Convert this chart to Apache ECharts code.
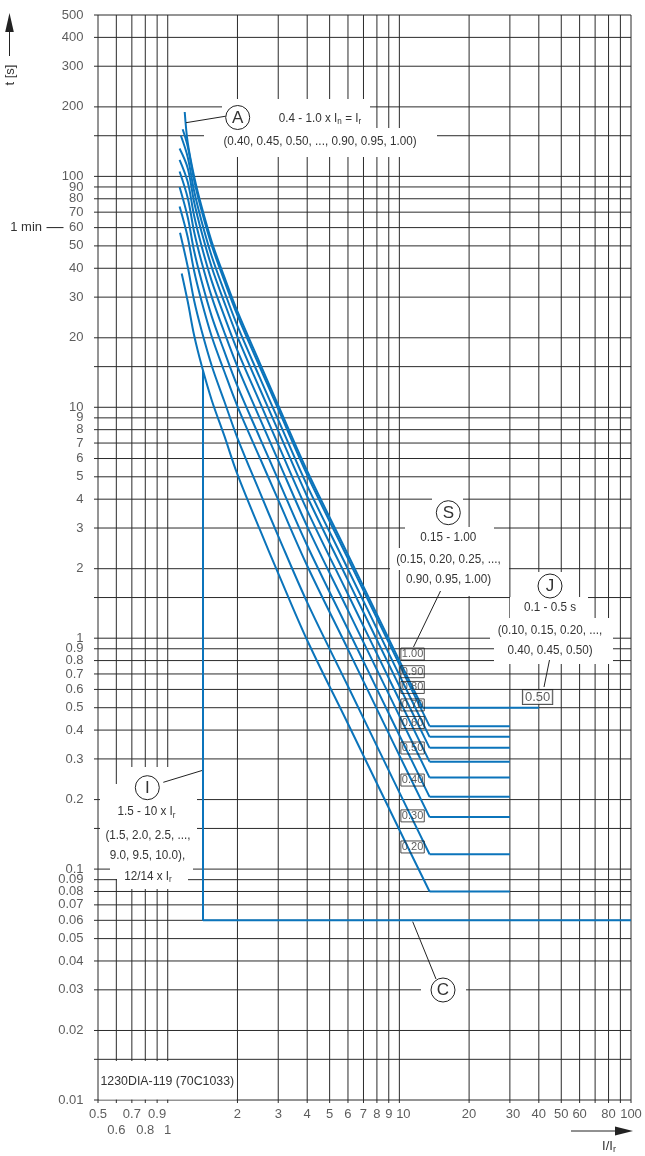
<!DOCTYPE html>
<html>
<head>
<meta charset="utf-8">
<script src="https://cdn.jsdelivr.net/npm/echarts@6/dist/echarts.min.js"></script>
<style>
html,body{margin:0;padding:0;background:#fff;}
#c{width:645px;height:1156px;}
</style>
</head>
<body>
<div id="c"></div>
<script>
// ---------------- data ----------------
const xGridVals = [0.5,0.6,0.7,0.8,0.9,1,2,3,4,5,6,7,8,9,10,20,30,40,50,60,70,80,90,100];
const yGridVals = [0.01,0.015,0.02,0.03,0.04,0.05,0.06,0.07,0.08,0.09,0.1,0.15,0.2,0.3,0.4,0.5,0.6,0.7,0.8,0.9,
                   1,1.5,2,3,4,5,6,7,8,9,10,15,20,30,40,50,60,70,80,90,100,150,200,300,400,500];
const xTickVals  = [0.5,0.7,0.9,2,3,4,5,6,7,8,9,10,20,30,40,50,60,80,100];
const xTickText  = ['0.5','0.7','0.9','2','3','4','5','6','7','8','9','10','20','30','40','50','60','80','100'];
const xTickVals2 = [0.6,0.8,1];
const xTickText2 = ['0.6','0.8','1'];
const yTickVals  = [500,400,300,200,100,90,80,70,60,50,40,30,20,10,9,8,7,6,5,4,3,2,1,
                    0.9,0.8,0.7,0.6,0.5,0.4,0.3,0.2,0.1,0.09,0.08,0.07,0.06,0.05,0.04,0.03,0.02,0.01];
const yTickText  = yTickVals.map(String);

// long-time / short-time curves (I/Ir , t[s])
const curveX  = [1.22, 1.3, 1.4, 1.55, 1.75, 2, 2.5, 3, 4, 6, 10];
const tCurve0 = [140, 100, 74, 52, 37, 26, 15.5, 10.2, 5.3, 2.3, 0.80];
const tCurve1 = [134.8, 96.3, 71.2, 50.1, 35.6, 25.0, 14.9, 9.82, 5.10, 2.21, 0.77];
const tCurve2 = [121.1, 86.5, 64.0, 45.0, 32.0, 22.5, 13.4, 8.82, 4.58, 1.99, 0.692];
const tCurve3 = [108.5, 77.5, 57.4, 40.3, 28.7, 20.2, 12.0, 7.91, 4.11, 1.78, 0.62];
const tCurve4 = [94.5, 67.5, 50.0, 35.1, 25.0, 17.6, 10.5, 6.89, 3.58, 1.55, 0.54];
const tCurve5 = [80.6, 57.6, 42.6, 30.0, 21.3, 15.0, 8.93, 5.88, 3.05, 1.32, 0.461];
const tCurve6 = [66.5, 47.5, 35.2, 24.7, 17.6, 12.35, 7.36, 4.85, 2.52, 1.09, 0.38];
const tCurve7 = [54.5, 38.9, 28.8, 20.2, 14.4, 10.1, 6.03, 3.97, 2.06, 0.895, 0.311];
const tCurve8 = [40.6, 29.0, 21.5, 15.1, 10.7, 7.36, 4.28, 2.77, 1.43, 0.619, 0.215];
const tCurve9 = [28.7, 20.5, 15.2, 10.7, 7.59, 5.12, 2.95, 1.91, 0.98, 0.426, 0.148];
const curveStartX = [1.184, 1.16, 1.14, 1.125, 1.125, 1.125, 1.125, 1.125, 1.13, 1.149];
const curveStartT = [190, 160, 150, 132, 118, 105, 90, 74, 57, 38];
const flatT      = [0.5, 0.416, 0.374, 0.335, 0.292, 0.249, 0.2055, 0.168, 0.116, 0.080];
const flatStartX = [12.6, 13.5, 13.5, 13.5, 13.5, 13.5, 13.5, 13.5, 13.5, 13.5];
const flatEndX   = [40, 30, 30, 30, 30, 30, 30, 30, 30, 30];

// instantaneous release (I) : vertical + 0.06 s line
const instX = [1.42, 1.42, 100];
const instT = [14.5, 0.06, 0.06];

// S setting labels at I/Ir = 10
const sLabelText = ['1.00','0.90','0.80','0.70','0.60','0.50','0.40','0.30','0.20'];
const sLabelT    = [0.854, 0.716, 0.612, 0.514, 0.4315, 0.3345, 0.243, 0.170, 0.1247];
const jLabelText = ['0.50'];
const jLabelX    = [39.5];
const jLabelT    = [0.556];

// ---------------- chart ----------------
const BLUE = '#0b74bb';
const GRIDC = '#2b2b2b';
const TXT = '#333';
const FONT = '"Liberation Sans", Arial, sans-serif';

const chart = echarts.init(document.getElementById('c'), null, {renderer:'canvas'});
const series = [];

series.push({
  type:'custom', z:1, silent:true, clip:false, animation:false,
  data: yGridVals.map(v => [0.5, v]),
  renderItem: (p, api) => {
    const y = api.value(1);
    const a = api.coord([0.5, y]), b = api.coord([100, y]);
    return {type:'line', shape:{x1:a[0]-4, y1:a[1], x2:b[0], y2:b[1]}, style:{stroke:GRIDC, lineWidth:1}};
  }
});
series.push({
  type:'custom', z:1, silent:true, clip:false, animation:false,
  data: xGridVals.map(v => [v, 0.01]),
  renderItem: (p, api) => {
    const x = api.value(0);
    const a = api.coord([x, 500]), b = api.coord([x, 0.01]);
    return {type:'line', shape:{x1:a[0], y1:a[1], x2:b[0], y2:b[1]+3}, style:{stroke:GRIDC, lineWidth:1}};
  }
});

const tCurves = [tCurve0,tCurve1,tCurve2,tCurve3,tCurve4,tCurve5,tCurve6,tCurve7,tCurve8,tCurve9];
tCurves.forEach((tc, i) => {
  const pts = [[curveStartX[i], curveStartT[i]]]
    .concat(curveX.map((x, k) => [x, tc[k]]))
    .concat([[flatStartX[i], flatT[i]]]);
  series.push({type:'line', data:pts, symbol:'none', smooth:0.35,
    lineStyle:{color:BLUE, width:2}, z:3, silent:true, animation:false});
  series.push({type:'line', data:[[flatStartX[i], flatT[i]], [flatEndX[i], flatT[i]]], symbol:'none',
    lineStyle:{color:BLUE, width:2}, z:3, silent:true, animation:false});
});
series.push({type:'line', data: instX.map((x,i)=>[x, instT[i]]), symbol:'none',
  lineStyle:{color:BLUE, width:2}, z:3, silent:true, animation:false});

const nudge = {'10':4, '30':3};
const hidden = {symbolSize:1, itemStyle:{color:'rgba(0,0,0,0)'}, silent:true, clip:false, animation:false, z:5};
series.push(Object.assign({type:'scatter',
  data: xTickVals.map((v,i)=>({value:[v,0.01], label:{formatter:xTickText[i], offset:[nudge[xTickText[i]]||0, 0]}})),
  label:{show:true, position:'bottom', distance:7, fontFamily:FONT, fontSize:13, color:TXT}}, hidden));
series.push(Object.assign({type:'scatter',
  data: xTickVals2.map((v,i)=>({value:[v,0.01], label:{formatter:xTickText2[i]}})),
  label:{show:true, position:'bottom', distance:23, fontFamily:FONT, fontSize:13, color:TXT}}, hidden));
series.push(Object.assign({type:'scatter',
  data: yTickVals.map((v,i)=>({value:[0.5,v], label:{formatter:yTickText[i]}})),
  label:{show:true, position:'left', distance:14, fontFamily:FONT, fontSize:13, color:TXT}}, hidden));
series.push(Object.assign({type:'scatter',
  data: sLabelT.map((t,i)=>({value:[10,t], label:{formatter:sLabelText[i]}})),
  label:{show:true, position:'right', distance:1, fontFamily:FONT, fontSize:11, color:TXT,
         borderColor:'#222', borderWidth:1, padding:[1,1,0,1], lineHeight:11}}, hidden, {z:6}));
series.push(Object.assign({type:'scatter',
  data: jLabelT.map((t,i)=>({value:[jLabelX[i],t], label:{formatter:jLabelText[i]}})),
  label:{show:true, position:'inside', fontFamily:FONT, fontSize:13, color:TXT, backgroundColor:'#fff',
         borderColor:'#222', borderWidth:1, padding:[1,2,0,2], lineHeight:13}}, hidden, {z:6}));

// ---------------- annotations ----------------
const G = [];
function rect(x,y,w,h){ G.push({type:'rect', z:100, silent:true, shape:{x,y,width:w,height:h}, style:{fill:'#fff'}}); }
function line(x1,y1,x2,y2){ G.push({type:'line', z:104, silent:true, shape:{x1,y1,x2,y2}, style:{stroke:'#222', lineWidth:1}}); }
function circ(cx,cy,letter){
  G.push({type:'circle', z:105, silent:true, shape:{cx,cy,r:12}, style:{fill:'#fff', stroke:'#222', lineWidth:1}});
  G.push({type:'text', z:106, silent:true, x:cx, y:cy+0.5, style:{text:letter, fontSize:17, fontFamily:FONT, fill:TXT, align:'center', verticalAlign:'middle'}});
}
const RICH = {
  a:{fontSize:13, fontFamily:FONT, fill:TXT, lineHeight:16, verticalAlign:'middle'},
  s:{fontSize:9, fontFamily:FONT, fill:TXT, lineHeight:7, verticalAlign:'bottom'}
};
function txt(x,y,text,o){
  o = o || {};
  G.push({type:'text', z:106, silent:true, x, y, scaleX:(o.sx===undefined?0.9:o.sx),
    style:{text, fontSize:o.size||13, fontFamily:FONT, fill:TXT, align:o.align||'center', verticalAlign:'middle', rich:RICH}});
}

// A
rect(222, 99, 148, 29); rect(204, 128, 233, 29);
line(186, 122.7, 225.8, 116.2);
circ(237.7, 117.5, 'A');
txt(320, 118.5, '{a|0.4 - 1.0 x I}{s|n}{a| = I}{s|r}');
txt(320, 141.5, '(0.40, 0.45, 0.50, ..., 0.90, 0.95, 1.00)');
// S
rect(432, 497, 31, 30); rect(405, 527, 89, 21); rect(390, 548, 119, 22); rect(400, 570, 97, 26);
line(440.5, 591, 413.5, 647);
circ(448.3, 512.7, 'S');
txt(448.3, 537, '0.15 - 1.00');
txt(448.5, 559, '(0.15, 0.20, 0.25, ...,');
txt(448.5, 579, '0.90, 0.95, 1.00)');
// J
rect(534, 572, 32, 25); rect(510, 597, 78, 21); rect(490, 618, 123, 22); rect(494, 640, 119, 24);
line(549.5, 660, 544, 687);
circ(550, 586, 'J');
txt(550, 607.5, '0.1 - 0.5 s');
txt(550, 630, '(0.10, 0.15, 0.20, ...,');
txt(550, 650.5, '0.40, 0.45, 0.50)');
// I
rect(121, 767, 76, 32); rect(110, 784, 87, 16); rect(100, 799, 97, 69); rect(110, 868, 83, 11); rect(117, 879, 71, 10);
line(163.3, 782.3, 202, 770.5);
circ(147.3, 787.7, 'I');
txt(146.5, 811.7, '{a|1.5 - 10 x I}{s|r}');
txt(148, 835, '(1.5, 2.0, 2.5, ...,');
txt(147.5, 855.5, '9.0, 9.5, 10.0),');
txt(148, 876, '{a|12/14 x I}{s|r}');
// C
rect(421, 976, 45, 28);
line(412.7, 921.7, 436, 979);
circ(443, 990, 'C');
// drawing number
rect(99, 1061, 137.5, 38.5);
txt(100.5, 1081, '1230DIA-119 (70C1033)', {align:'left', sx:0.95});
// 1 min
txt(42, 227.6, '1 min', {align:'right', sx:1});
line(46.5, 227.6, 63.5, 227.6);
// axis titles + arrows
G.push({type:'text', z:106, silent:true, x:10.5, y:75, rotation:Math.PI/2,
  style:{text:'t [s]', fontSize:13, fontFamily:FONT, fill:TXT, align:'center', verticalAlign:'middle'}});
line(9.5, 56, 9.5, 30);
G.push({type:'polygon', z:104, silent:true, shape:{points:[[9.5,13],[5.2,32],[13.8,32]]}, style:{fill:'#222'}});
line(571, 1131, 620, 1131);
G.push({type:'polygon', z:104, silent:true, shape:{points:[[633,1131],[615,1126.5],[615,1135.5]]}, style:{fill:'#222'}});
txt(609, 1146, '{a|I/I}{s|r}', {sx:1});

chart.setOption({
  animation:false,
  backgroundColor:'#fff',
  grid:{left:98, top:15, width:533, height:1085, containLabel:false, outerBoundsMode:'none'},
  xAxis:{type:'log', logBase:10, min:0.5, max:100, axisLine:{show:false}, axisTick:{show:false},
         axisLabel:{show:false}, splitLine:{show:false}, minorSplitLine:{show:false}},
  yAxis:{type:'log', logBase:10, min:0.01, max:500, axisLine:{show:false}, axisTick:{show:false},
         axisLabel:{show:false}, splitLine:{show:false}, minorSplitLine:{show:false}},
  series,
  graphic:{elements:G}
});
</script>
</body>
</html>
